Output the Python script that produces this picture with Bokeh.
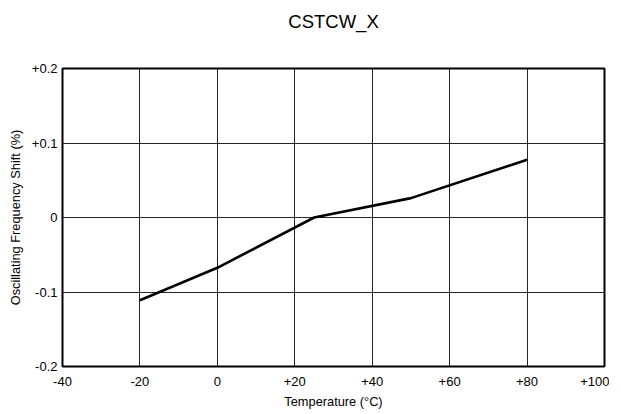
from bokeh.plotting import figure
from bokeh.models import Range1d, FixedTicker, LinearAxis
from bokeh.embed import file_html
from bokeh.resources import INLINE

# Data
temperature = [-20, 0, 25, 50, 80]
freq_shift = [-0.111, -0.0675, 0.0, 0.026, 0.0775]

x_ticks = [-40, -20, 0, 20, 40, 60, 80, 100]
x_tick_labels = ["-40", "-20", "0", "+20", "+40", "+60", "+80", "+100"]
y_ticks = [-0.2, -0.1, 0, 0.1, 0.2]
y_tick_labels = ["-0.2", "-0.1", "0", "+0.1", "+0.2"]
chart_title = "CSTCW_X"

FONT = "Liberation Sans"

p = figure(output_backend="svg", toolbar_location=None,
           x_range=Range1d(-40, 100), y_range=Range1d(-0.2, 0.2),
           min_border_left=62, min_border_right=5,
           min_border_top=68, min_border_bottom=46)
p.frame_width = 542
p.frame_height = 298

p.line(temperature, freq_shift, line_color="black", line_width=2.6)

for ax in (p.xaxis[0], p.yaxis[0]):
    ax.axis_line_color = None
    ax.major_tick_line_color = None
    ax.minor_tick_line_color = None
    ax.major_tick_out = 0
    ax.major_tick_in = 0
    ax.major_label_text_font = FONT
    ax.major_label_text_font_size = "13px"
    ax.major_label_text_color = "black"
    ax.axis_label_text_font = FONT
    ax.axis_label_text_font_size = "12.8px"
    ax.axis_label_text_font_style = "normal"
    ax.axis_label_text_color = "black"

p.xaxis.ticker = FixedTicker(ticks=x_ticks)
p.xaxis.major_label_overrides = dict(zip(x_ticks, x_tick_labels))
p.xaxis.major_label_standoff = 10
p.xaxis.axis_label = "Temperature (°C)"
p.xaxis.axis_label_standoff = 5

p.yaxis.ticker = FixedTicker(ticks=y_ticks)
p.yaxis.major_label_overrides = dict(zip(y_ticks, y_tick_labels))
p.yaxis.major_label_standoff = 5
p.yaxis.axis_label = "Oscillating Frequency Shift (%)"
p.yaxis.axis_label_standoff = 6

# Title drawn as the label of a tick-less axis above the frame
title_axis = LinearAxis(ticker=FixedTicker(ticks=[]), axis_label=chart_title,
                        axis_line_color=None, major_tick_line_color=None,
                        minor_tick_line_color=None, major_tick_out=0,
                        major_tick_in=0, major_label_standoff=0,
                        axis_label_standoff=37, axis_label_text_font=FONT,
                        axis_label_text_font_size="18.5px",
                        axis_label_text_font_style="normal",
                        axis_label_text_color="black")
p.add_layout(title_axis, "above")

p.xgrid.ticker = FixedTicker(ticks=x_ticks)
p.ygrid.ticker = FixedTicker(ticks=y_ticks)
p.grid.grid_line_color = "black"
p.grid.grid_line_width = 1
p.grid.grid_line_alpha = 0.85

p.outline_line_color = "black"
p.outline_line_width = 2
p.outline_line_alpha = 1

open("out.html", "w").write(file_html(p, INLINE))
